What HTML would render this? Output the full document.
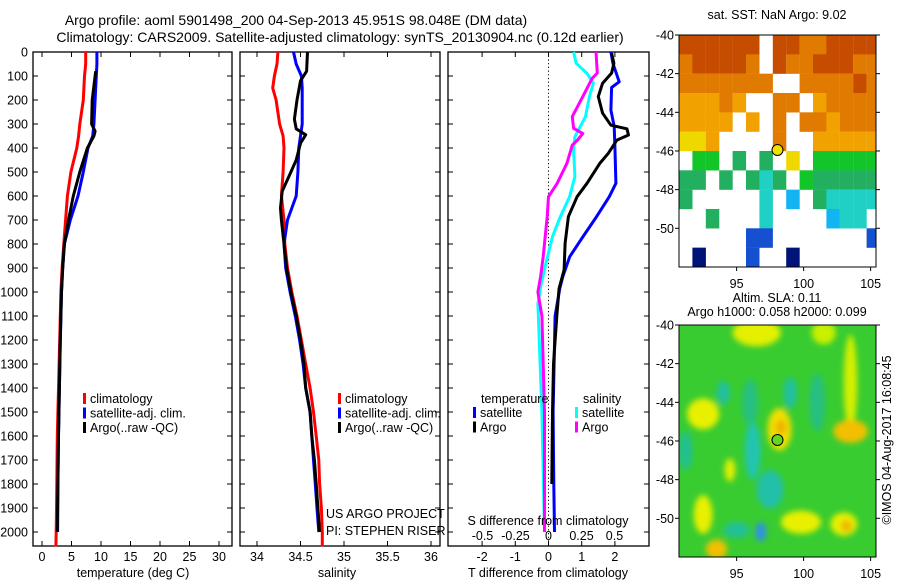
<!DOCTYPE html>
<html><head><meta charset="utf-8">
<style>
html,body{margin:0;padding:0;background:#fff;}
svg{display:block;font-family:"Liberation Sans",sans-serif;}
text{font-size:12.5px;fill:#000;}
</style></head>
<body>
<svg id="c" width="900" height="580" viewBox="0 0 900 580" xmlns="http://www.w3.org/2000/svg">
<text x="296" y="25" text-anchor="middle" style="font-size:14px">Argo profile: aoml 5901498_200 04-Sep-2013 45.951S 98.048E (DM data)</text>
<text x="340" y="42" text-anchor="middle" style="font-size:14px">Climatology: CARS2009. Satellite-adjusted climatology: synTS_20130904.nc (0.12d earlier)</text>
<text x="777" y="19" text-anchor="middle">sat. SST: NaN Argo: 9.02</text>
<text x="777" y="302" text-anchor="middle">Altim. SLA: 0.11</text>
<text x="777" y="316" text-anchor="middle">Argo h1000: 0.058 h2000: 0.099</text>
<text transform="translate(891,440) rotate(-90)" text-anchor="middle">©IMOS 04-Aug-2017 16:08:45</text>
<g id="layer"></g>
</svg>
<script>
// ---- data ----
const tempDepth = [0,50,100,200,300,350,400,500,600,700,800,900,1000,1200,1400,1600,1800,2000,2060];
const tempClim  = [7.4,7.4,7.2,7.0,6.4,6.2,5.9,4.9,4.3,4.0,3.7,3.4,3.2,3.0,2.8,2.6,2.5,2.4,2.35];
const tempSatDepth = [0,50,100,200,300,350,400,500,600,700,800,900,1000,1200,1400,1600,1800,2000];
const tempSat   = [9.3,9.3,9.2,9.0,8.8,8.6,7.8,7.0,6.1,4.8,3.8,3.5,3.3,3.1,2.95,2.8,2.7,2.65];
const tempArgoDepth = [80,200,300,330,350,400,500,600,700,800,900,1000,1200,1400,1600,1800,2000];
const tempArgo  = [9.1,8.5,8.4,9.0,8.8,7.7,6.4,5.3,4.5,3.8,3.5,3.3,3.1,2.95,2.8,2.7,2.6];

const salDepth = [0,50,100,150,200,300,350,400,500,600,700,800,900,1000,1100,1200,1300,1400,1500,1600,1700,1800,1900,2000,2060];
const salClim  = [34.24,34.23,34.20,34.18,34.22,34.26,34.30,34.31,34.30,34.28,34.31,34.32,34.35,34.40,34.46,34.51,34.56,34.61,34.65,34.68,34.71,34.72,34.74,34.75,34.75];
const salSatDepth = [0,50,100,150,200,300,350,400,500,600,700,800,900,1000,1100,1200,1300,1400,1500,1600,1700,1800,1900,2000];
const salSat   = [34.42,34.45,34.51,34.52,34.52,34.52,34.50,34.48,34.47,34.45,34.35,34.31,34.33,34.38,34.44,34.49,34.53,34.56,34.61,34.63,34.65,34.67,34.69,34.71];
const salArgoDepth = [0,80,120,200,280,320,345,380,450,500,580,650,700,800,900,1000,1100,1200,1300,1400,1500,1600,1700,1800,1900,2000];
const salArgo  = [34.58,34.57,34.50,34.46,34.43,34.45,34.56,34.50,34.45,34.39,34.29,34.27,34.28,34.31,34.34,34.39,34.45,34.50,34.54,34.56,34.61,34.63,34.66,34.68,34.70,34.72];

const dTSatDepth = [0,47,124,148,242,311,394,547,603,686,769,853,936,985,1100,1300,1500,1800,2000];
const dTSat      = [1.88,1.94,2.13,1.9,1.88,1.98,2.0,2.03,1.83,1.45,1.04,0.64,0.43,0.34,0.2,0.17,0.14,0.16,0.18];
const dTArgoDepth = [5,47,88,130,186,255,305,320,346,367,422,463,547,603,686,797,908,985,1100,1300,1500,1800];
const dTArgo      = [1.9,1.97,1.9,1.63,1.5,1.63,1.88,2.36,2.41,2.06,1.8,1.55,1.16,0.86,0.6,0.5,0.47,0.32,0.25,0.15,0.12,0.1];
const dSArgoDepth = [0,88,110,186,269,318,340,367,388,463,547,603,686,853,936,1000,1100,1500,2000];
const dSArgo      = [0.36,0.37,0.33,0.26,0.18,0.19,0.26,0.22,0.18,0.14,0.066,0.0,-0.01,-0.04,-0.06,-0.08,-0.05,-0.03,-0.03];
const dSSatDepth = [0,47,88,130,186,269,353,408,519,603,686,769,880,978,1050,1500,2000];
const dSSat      = [0.19,0.21,0.29,0.34,0.31,0.28,0.2,0.19,0.2,0.16,0.09,0.03,-0.02,-0.06,-0.08,-0.05,-0.03];

const depthTicks = [0,100,200,300,400,500,600,700,800,900,1000,1100,1200,1300,1400,1500,1600,1700,1800,1900,2000];
const tempTicks = [0,5,10,15,20,25,30];
const salTicks = [34,34.5,35,35.5,36];
const salTickLabels = ["34","34.5","35","35.5","36"];
const dTTicks = [-2,-1,0,1,2];
const dSTicks = [-0.5,-0.25,0,0.25,0.5];
const dSTickLabels = ["-0.5","-0.25","0","0.25","0.5"];
const latTicks = [-40,-42,-44,-46,-48,-50];
const lonTicks = [95,100,105];

// SST grid, rows from -40 southward 1 deg, cols lon 90.7 + i
const sstRows = [
"rrrrrr.rroorrrr",
"orrrro.roorrroo",
"ooooooo..ooooro",
"aaaoa..oo.aoooo",
"aaaa.a.o.ooaooo",
"yya....o..aaaaa",
".gg.G.G.y.ggggg",
"GG.G.GcG.gGGGGG",
"G.....c.b.Gcccc",
"..G...c....bcc.",
".....BB.......B",
".n...B..n......"
];
const sstColors = {r:"#c64c00",o:"#e07a00",a:"#f2a200",y:"#eed800",g:"#12c62a",G:"#22b060",c:"#20d0c4",b:"#12b4f2",B:"#1450d0",n:"#001478"};
// SLA blobs: lon, lat, rx(deg), ry(deg), color
const slaLon = [96.5,101.5,92.5,98.2,98.3,103.5,103.5,96.2,97.5,94,99,92.5,99.8,103,96.8,93.5,95,94.5,103.2,91.2,101,96];
const slaLat = [-40.4,-40.4,-44.6,-45.4,-45.3,-43,-45.5,-46.5,-48.5,-43.5,-43.5,-49.8,-50.2,-50.3,-50.7,-51.6,-50.6,-47.5,-50.4,-46.5,-44,-44];
const slaRx  = [1.8,0.9,1.2,0.9,0.4,0.5,1.3,0.6,1.0,0.5,0.5,0.7,1.5,1.0,0.4,0.8,1.0,0.4,0.4,0.5,0.6,0.6];
const slaRy  = [0.7,0.6,0.8,1.1,0.4,2.5,0.6,1.5,1.0,0.6,0.8,1.0,0.6,0.6,0.5,0.5,0.4,0.6,0.3,1.0,1.5,1.2];
const slaCol = ["#e4f000","#c8f000","#e8f000","#f0e000","#f0b000","#d4f000","#f2c000","#20c4b0","#20c0a8","#20c0a0","#20c0a0","#e8f000","#e8f000","#e8f000","#3090e8","#f2c000","#20c098","#e0f000","#f0b000","#20c090","#28c080","#28c080"];

// ---- helpers ----
const NS="http://www.w3.org/2000/svg";
const root=document.getElementById('layer');
function mk(tag,attrs,parent){const e=document.createElementNS(NS,tag);for(const k in attrs)e.setAttribute(k,attrs[k]);(parent||root).appendChild(e);return e;}
function txt(x,y,s,anchor,parent){const t=mk('text',{x:x,y:y,'text-anchor':anchor||'start'},parent);t.textContent=s;return t;}
const Y = d => 52 + d*0.24;
const TOP=52, BOT=546;
const xT = v => 42 + v*5.9;
const xS = v => 257 + (v-34)*87;
const xDT = v => 548.5 + v*33.2;
const xDS = v => 548.5 + v*132;

function panel(x0,x1,name){
  const r=mk('rect',{x:x0,y:TOP,width:x1-x0,height:BOT-TOP,fill:'none',stroke:'#000','stroke-width':1.3});
  
  
  depthTicks.forEach(d=>{
    mk('line',{x1:x0,x2:x0+5,y1:Y(d),y2:Y(d),stroke:'#000'});
    mk('line',{x1:x1-5,x2:x1,y1:Y(d),y2:Y(d),stroke:'#000'});
  });
}
function xticks(vals,labels,fx,ylab,name){
  vals.forEach((v,i)=>{
    mk('line',{x1:fx(v),x2:fx(v),y1:TOP,y2:TOP+5,stroke:'#000'});
    mk('line',{x1:fx(v),x2:fx(v),y1:BOT-5,y2:BOT,stroke:'#000'});
    const t=txt(fx(v),ylab,labels[i],'middle');
    
    
  });
}
function line(depths,vals,fx,color,w,name){
  const pts=depths.map((d,i)=>fx(vals[i]).toFixed(1)+','+Y(d).toFixed(1)).join(' ');
  const p=mk('polyline',{points:pts,fill:'none',stroke:color,'stroke-width':w,'stroke-linejoin':'round'});
  
  
}

// ---- panel 1: temperature ----
panel(33,232,'temperature-panel');
depthTicks.forEach(d=>{const t=txt(28,Y(d)+4.5,String(d),'end');
  
  });
xticks(tempTicks,tempTicks.map(String),xT,561,'temperature-tick-label');
line(tempDepth,tempClim,xT,'#ff0000',3,'temp-climatology-line');
line(tempSatDepth,tempSat,xT,'#0000ff',3,'temp-satellite-line');
line(tempArgoDepth,tempArgo,xT,'#000000',3,'temp-argo-line');
{const t=txt(133,577,'temperature (deg C)','middle');}

// ---- panel 2: salinity ----
panel(240,440,'salinity-panel');
xticks(salTicks,salTickLabels,xS,561,'salinity-tick-label');
line(salDepth,salClim,xS,'#ff0000',3,'sal-climatology-line');
line(salSatDepth,salSat,xS,'#0000ff',3,'sal-satellite-line');
line(salArgoDepth,salArgo,xS,'#000000',3,'sal-argo-line');
{const t=txt(337,577,'salinity','middle');}

// legends
function legend(bx,ys,items,prefix){
  items.forEach((it,i)=>{
    mk('rect',{x:bx,y:ys+i*14.5-6,width:3,height:11,fill:it[1]});
    const t=txt(bx+7,ys+i*14.5+4,it[0]);
    
    
  });
}
legend(83,399,[['climatology','#ff0000'],['satellite-adj. clim.','#0000ff'],['Argo(..raw -QC)','#000']],'temp-legend-entry');
legend(338,399,[['climatology','#ff0000'],['satellite-adj. clim.','#0000ff'],['Argo(..raw -QC)','#000']],'sal-legend-entry');
{let t=txt(326,518,'US ARGO PROJECT');
 t=txt(326,535,'PI: STEPHEN RISER');}

// ---- panel 3: differences ----
panel(448,649,'difference-panel');
xticks(dTTicks,dTTicks.map(String),xDT,561,'dt-tick-label');
mk('line',{x1:xDT(0),x2:xDT(0),y1:TOP,y2:BOT,stroke:'#000','stroke-dasharray':'1.2,2.5'});
dSTicks.forEach((v,i)=>{const t=txt(xDS(v),540,dSTickLabels[i],'middle');});
line(dSSatDepth,dSSat,xDS,'#00ffff',3,'ds-satellite-line');
line(dSArgoDepth,dSArgo,xDS,'#ff00ff',3,'ds-argo-line');
line(dTSatDepth,dTSat,xDT,'#0000ff',3,'dt-satellite-line');
line(dTArgoDepth,dTArgo,xDT,'#000000',3,'dt-argo-line');
{let t=txt(548,525,'S difference from climatology','middle');
 t=txt(548,577,'T difference from climatology','middle');
 t=txt(481,403,'temperature');
 t=txt(583,403,'salinity');}
legend(473,413,[['satellite','#0000ff'],['Argo','#000']],'dt-legend-entry');
legend(575,413,[['satellite','#00ffff'],['Argo','#ff00ff']],'ds-legend-entry');

// ---- maps ----
const MX0=679, MX1=876;
const lonX = v => 679 + (v-90.7)*13.4;
function mapFrame(top,name){
  const bot=top+232;
  const latY = v => top + (-40 - v)*19.33;
  const r=mk('rect',{x:MX0,y:top,width:MX1-MX0,height:232,fill:'none',stroke:'#000','stroke-width':1});
  
  
  latTicks.forEach(v=>{
    mk('line',{x1:MX0-4,x2:MX0,y1:latY(v),y2:latY(v),stroke:'#000'});
    mk('line',{x1:MX1,x2:MX1+4,y1:latY(v),y2:latY(v),stroke:'#000'});
    const t=txt(MX0-5,latY(v)+4.5,String(v),'end');
    
    
  });
  lonTicks.forEach(v=>{
    mk('line',{x1:lonX(v),x2:lonX(v),y1:bot,y2:bot+4,stroke:'#000'});
    const t=txt(lonX(v),bot+21,String(v),'middle');
    
    
  });
  return latY;
}
// SST map
{
  const top=35;
  const latY = v => top + (-40 - v)*19.33;
  const g=mk('g',{});
  
  
  sstRows.forEach((row,ri)=>{
    for(let ci=0;ci<row.length;ci++){
      const ch=row[ci]; if(ch==='.') continue;
      const x=lonX(90.7+ci), y=latY(-40-ri);
      const c=mk('rect',{x:x,y:y,width:Math.min(13.5,MX1-x),height:19.5,fill:sstColors[ch]},g);
      
      
    }
  });
  mapFrame(top,'sst-map');
  const m=mk('circle',{cx:lonX(98.05),cy:latY(-45.95),r:5.5,fill:'#f0e000',stroke:'#000','stroke-width':1});
  
  
}
// SLA map
{
  const top=325;
  const latY = v => top + (-40 - v)*19.33;
  const defs=mk('defs',{});
  const f=mk('filter',{id:'blur',x:'-50%',y:'-50%',width:'200%',height:'200%'},defs);
  mk('feGaussianBlur',{stdDeviation:3},f);
  const cp=mk('clipPath',{id:'slaclip'},defs);
  mk('rect',{x:MX0,y:top,width:MX1-MX0,height:232},cp);
  const g=mk('g',{'clip-path':'url(#slaclip)'});
  
  
  mk('rect',{x:MX0,y:top,width:MX1-MX0,height:232,fill:'#38cc30'},g);
  const bg=mk('g',{filter:'url(#blur)'},g);
  slaLon.forEach((lo,i)=>{
    const e=mk('ellipse',{cx:lonX(lo),cy:latY(slaLat[i]),rx:slaRx[i]*13.4,ry:slaRy[i]*19.33,fill:slaCol[i]},bg);
    
    
  });
  mapFrame(top,'sla-map');
  const m=mk('circle',{cx:lonX(98.05),cy:latY(-45.95),r:5.5,fill:'#60d820',stroke:'#000','stroke-width':1});
  
  
}
</script>
</body></html>
